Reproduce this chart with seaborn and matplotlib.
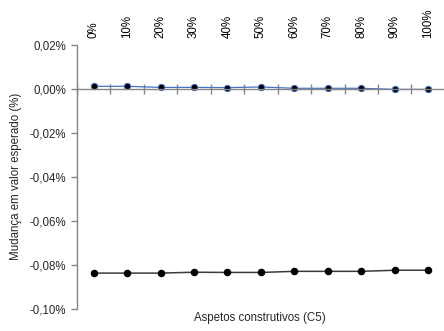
import matplotlib
matplotlib.use("Agg")
import matplotlib.pyplot as plt
import matplotlib.ticker as mticker
import numpy as np
import pandas as pd
import seaborn as sns

# Share of construction aspects considered (C5)
categories = ["0%", "10%", "20%", "30%", "40%", "50%", "60%", "70%", "80%", "90%", "100%"]
# Change in expected value (%) for the two scenarios
series_blue = [0.0012, 0.0012, 0.0007, 0.0007, 0.0006, 0.0009, 0.0003, 0.0003, 0.0003, -0.0002, -0.0002]
series_black = [-0.0838, -0.0838, -0.0838, -0.0834, -0.0835, -0.0835, -0.0830, -0.0830, -0.0830, -0.0825, -0.0825]
y_ticks = [-0.10, -0.08, -0.06, -0.04, -0.02, 0.00, 0.02]

FS = 8.3

sns.set_style("white")
plt.rcParams["font.family"] = ["Liberation Sans", "DejaVu Sans"]
plt.rcParams["font.size"] = FS

df = pd.DataFrame({
    "cat": categories * 2,
    "val": series_blue + series_black,
    "serie": ["a"] * len(categories) + ["b"] * len(categories),
})

fig = plt.figure(figsize=(4.44, 3.31), dpi=100)
ax = fig.add_axes([77 / 444, 1 - 308.7 / 331, 1.0 - 77 / 444 + 0.002, (308.7 - 45) / 331])

sns.pointplot(data=df[df.serie == "b"], x="cat", y="val", order=categories, color="#3a3a3a",
              markers="o", linestyles="-", ax=ax, errorbar=None,
              lw=1.1, markersize=4.6, markerfacecolor="black", markeredgecolor="black")
sns.pointplot(data=df[df.serie == "a"], x="cat", y="val", order=categories, color="#4472C4",
              markers="o", linestyles="-", ax=ax, errorbar=None,
              lw=0.9, markersize=4.6, markerfacecolor="black", markeredgecolor="#4472C4",
              markeredgewidth=0.7)

ax.set_xlim(-0.5, len(categories) - 0.5)
ax.set_ylim(-0.10, 0.02)
ax.set_yticks(y_ticks)
ax.yaxis.set_major_formatter(mticker.FuncFormatter(lambda v, p: f"{v:.2f}%".replace(".", ",").replace("-0,00", "0,00")))

axis_gray = "#868686"
for s in ["top", "right"]:
    ax.spines[s].set_visible(False)
ax.spines["left"].set_color(axis_gray)
ax.spines["left"].set_linewidth(1.0)
ax.spines["bottom"].set_position(("data", 0))
ax.spines["bottom"].set_color(axis_gray)
ax.spines["bottom"].set_linewidth(1.0)

# category labels on top, tick marks between categories on the zero line
ax.set_xticks(range(len(categories)))
ax.set_xticklabels(categories, rotation=90)
ax.tick_params(axis="x", which="major", bottom=False, top=False, labelbottom=False,
               labeltop=True, pad=5, length=0, labelsize=FS, colors="black")
ax.set_xticks(np.arange(-0.5, len(categories), 1.0), minor=True)
ax.tick_params(axis="x", which="minor", bottom=True, top=False, direction="inout",
               length=7, width=1.0, color=axis_gray)
ax.tick_params(axis="y", left=True, direction="out", length=4, width=1.0, color=axis_gray,
               labelsize=FS, pad=4)

ax.set_xlabel("")
ax.set_ylabel("Mudança em valor esperado (%)", fontsize=FS, labelpad=5)
fig.text(260 / 444, 1 - 318 / 331, "Aspetos construtivos (C5)", ha="center", va="center", fontsize=FS)

fig.savefig("out.png", dpi=100)
